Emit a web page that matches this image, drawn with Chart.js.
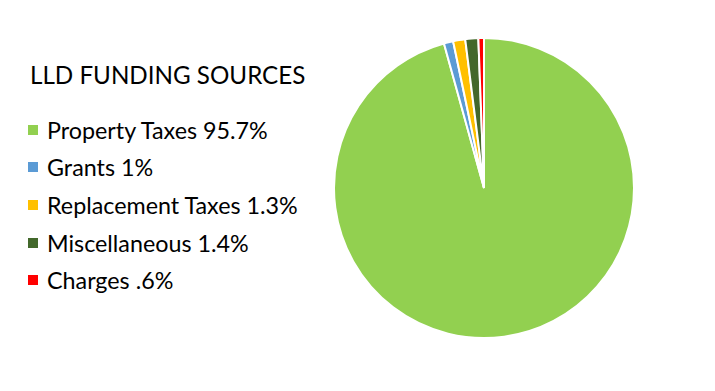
<!DOCTYPE html>
<html><head><meta charset="utf-8">
<script src="https://cdn.jsdelivr.net/npm/chart.js@4.4.1/dist/chart.umd.min.js"></script>
<style>
html,body{margin:0;padding:0;background:#fff;width:715px;height:391px;overflow:hidden;font-family:Lato,"Open Sans",sans-serif;color:#000}
#title{position:absolute;left:30px;top:60px;font-size:24.2px;white-space:nowrap;line-height:30px}
#legend{position:absolute;left:28px;top:111px;margin:0;padding:0;list-style:none}
#legend li{line-height:30px;font-size:23.3px;white-space:nowrap;display:flex;align-items:center;height:37.6px}
#legend .sw{display:inline-block;width:10px;height:10px;margin-right:9px}
#wrap{position:absolute;left:333px;top:37px;width:302px;height:302px}
</style></head><body>
<div id="title"></div>
<ul id="legend"></ul>
<div id="wrap"><canvas id="c"></canvas></div>
<script>
const chartTitle = "LLD FUNDING SOURCES";
const categories = ["Property Taxes", "Grants", "Replacement Taxes", "Miscellaneous", "Charges"];
const legendLabels = ["Property Taxes 95.7%", "Grants 1%", "Replacement Taxes 1.3%", "Miscellaneous 1.4%", "Charges .6%"];
const values = [95.7, 1, 1.3, 1.4, 0.6];
const colors = ["#92D050", "#5B9BD5", "#FFC000", "#43682B", "#FF0000"];

document.getElementById('title').textContent = chartTitle;
const ul = document.getElementById('legend');
legendLabels.forEach((t,i)=>{
  const li=document.createElement('li');
  const s=document.createElement('span'); s.className='sw'; s.style.background=colors[i];
  li.appendChild(s); li.appendChild(document.createTextNode(t)); ul.appendChild(li);
});

new Chart(document.getElementById('c'), {
  type: 'pie',
  data: { labels: categories, datasets: [{ data: values, backgroundColor: colors, borderColor: '#ffffff', borderWidth: 2 }] },
  options: {
    responsive: true, maintainAspectRatio: false, animation: false,
    layout: { padding: 0 },
    plugins: { legend: { display: false }, tooltip: { enabled: false } }
  }
});
</script>
</body></html>
